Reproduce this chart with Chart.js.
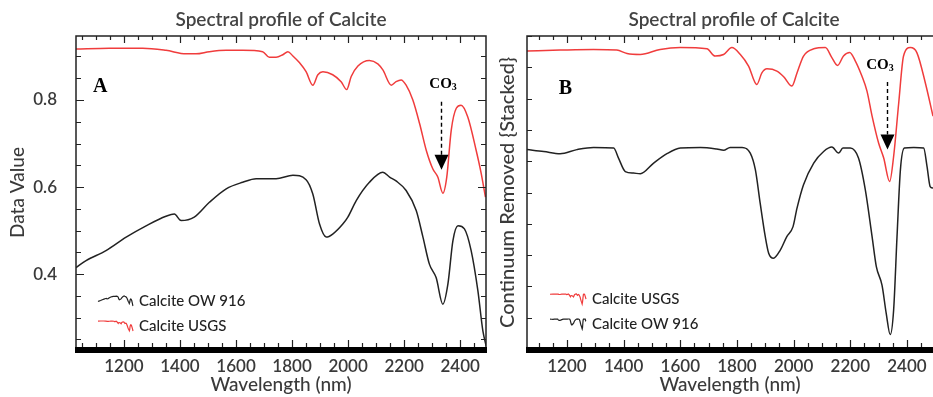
<!DOCTYPE html>
<html>
<head>
<meta charset="utf-8">
<title>Spectral profile of Calcite</title>
<script src="https://cdn.jsdelivr.net/npm/chart.js@4.4.1/dist/chart.umd.min.js"></script>
<style>
  html, body { margin: 0; padding: 0; background: #fff; }
  #wrap { position: relative; width: 933px; height: 397px; overflow: hidden; }
  canvas { position: absolute; top: 0; }
  #chartA { left: 0; }
  #chartB { left: 490px; }
</style>
</head>
<body>
<div id="wrap">
  <canvas id="chartA" width="490" height="397"></canvas>
  <canvas id="chartB" width="443" height="397"></canvas>
</div>
<script>
// tick labels
const xTicks = [1200, 1400, 1600, 1800, 2000, 2200, 2400];
const aYTicks = [0.4, 0.6, 0.8];

// panel A - reflectance (Data Value)
const aBlackNm = [1029, 1065, 1136, 1208, 1279, 1350, 1380, 1404, 1451, 1505, 1565, 1624, 1672, 1743, 1803, 1850, 1874, 1898, 1922, 1945, 1981, 1999, 2029, 2076, 2124, 2148, 2171, 2207, 2243, 2267, 2290, 2314, 2338, 2356, 2374, 2392, 2415, 2439, 2463, 2481, 2493];
const aBlackVal = [0.415, 0.431, 0.454, 0.485, 0.511, 0.533, 0.538, 0.523, 0.531, 0.565, 0.596, 0.611, 0.619, 0.619, 0.627, 0.617, 0.584, 0.515, 0.485, 0.492, 0.515, 0.531, 0.569, 0.611, 0.634, 0.623, 0.614, 0.592, 0.546, 0.485, 0.423, 0.392, 0.331, 0.377, 0.477, 0.511, 0.504, 0.454, 0.362, 0.269, 0.234];
const aRedNm = [1029, 1148, 1267, 1350, 1422, 1457, 1505, 1565, 1624, 1695, 1719, 1743, 1767, 1785, 1803, 1826, 1850, 1874, 1892, 1910, 1945, 1975, 1995, 2011, 2035, 2076, 2106, 2124, 2154, 2171, 2189, 2207, 2231, 2255, 2279, 2302, 2320, 2338, 2352, 2368, 2386, 2403, 2427, 2457, 2475, 2490];
const aRedVal = [0.917, 0.919, 0.919, 0.914, 0.906, 0.906, 0.911, 0.914, 0.914, 0.911, 0.898, 0.898, 0.904, 0.911, 0.901, 0.886, 0.865, 0.834, 0.858, 0.865, 0.858, 0.842, 0.824, 0.854, 0.878, 0.891, 0.883, 0.869, 0.834, 0.842, 0.846, 0.834, 0.800, 0.746, 0.684, 0.642, 0.623, 0.586, 0.623, 0.731, 0.781, 0.788, 0.761, 0.684, 0.631, 0.577];

// panel B - continuum removed, stacked (arbitrary units 0..1)
const bRedNm = [1059, 1176, 1294, 1376, 1412, 1459, 1529, 1600, 1694, 1723, 1753, 1782, 1812, 1841, 1870, 1888, 1906, 1941, 1965, 1994, 2012, 2035, 2071, 2112, 2135, 2155, 2176, 2198, 2218, 2241, 2259, 2277, 2300, 2318, 2339, 2353, 2371, 2388, 2412, 2435, 2465, 2492];
const bRedVal = [0.952, 0.955, 0.957, 0.955, 0.944, 0.941, 0.957, 0.963, 0.959, 0.936, 0.941, 0.963, 0.941, 0.904, 0.845, 0.882, 0.895, 0.888, 0.870, 0.840, 0.882, 0.936, 0.959, 0.963, 0.931, 0.906, 0.936, 0.947, 0.920, 0.872, 0.824, 0.744, 0.658, 0.610, 0.535, 0.615, 0.786, 0.936, 0.963, 0.947, 0.850, 0.744];
const bBlackNm = [1059, 1118, 1176, 1235, 1294, 1365, 1382, 1406, 1435, 1459, 1506, 1553, 1600, 1671, 1729, 1753, 1776, 1818, 1847, 1865, 1882, 1900, 1912, 1929, 1953, 1976, 1998, 2012, 2035, 2071, 2106, 2135, 2159, 2174, 2200, 2229, 2253, 2277, 2292, 2312, 2327, 2341, 2353, 2365, 2377, 2391, 2424, 2459, 2471, 2482, 2492];
const bBlackVal = [0.637, 0.631, 0.624, 0.637, 0.644, 0.642, 0.610, 0.567, 0.562, 0.560, 0.594, 0.624, 0.642, 0.644, 0.639, 0.635, 0.644, 0.644, 0.626, 0.573, 0.466, 0.359, 0.306, 0.290, 0.316, 0.359, 0.391, 0.450, 0.525, 0.594, 0.631, 0.645, 0.626, 0.642, 0.642, 0.610, 0.509, 0.359, 0.263, 0.204, 0.113, 0.046, 0.124, 0.359, 0.573, 0.642, 0.644, 0.642, 0.583, 0.519, 0.514];

Chart.defaults.font.family = "Lato, 'Open Sans', sans-serif";
Chart.defaults.color = "#3a3a3a";

const SERIF = "'Liberation Serif', 'DejaVu Serif', serif";

// frame, ticks, titles, notes and legend drawn on top of the datasets
function makeDecor(cfg) {
  return {
    id: "decor",
    afterDatasetsDraw(chart) {
      const { ctx, chartArea: a } = chart;
      const xs = chart.scales.x;
      const ys = chart.scales.y;
      ctx.save();

      // frame
      ctx.strokeStyle = "#222";
      ctx.lineWidth = 1.5;
      ctx.beginPath();
      ctx.moveTo(a.left, a.bottom);
      ctx.lineTo(a.left, a.top);
      ctx.lineTo(a.right, a.top);
      if (cfg.rightAxis) ctx.lineTo(a.right, a.bottom);
      ctx.stroke();

      // inward ticks
      ctx.lineWidth = 1.2;
      ctx.beginPath();
      for (let k = Math.ceil(xs.min / 50); k * 50 <= xs.max; k++) {
        const px = Math.round(xs.getPixelForValue(k * 50)) + 0.5;
        const len = (k * 50) % 200 === 0 ? 7 : 4;
        ctx.moveTo(px, a.top);
        ctx.lineTo(px, a.top + len);
        ctx.moveTo(px, a.bottom - 2);
        ctx.lineTo(px, a.bottom - 2 - len);
      }
      for (let k = Math.ceil(ys.min / cfg.yStep - 1e-6); k * cfg.yStep <= ys.max + 1e-9; k++) {
        const v = k * cfg.yStep;
        const py = Math.round(ys.getPixelForValue(v)) + 0.5;
        const major = cfg.yMajor && Math.abs(v / cfg.yMajor - Math.round(v / cfg.yMajor)) < 1e-6;
        const len = major ? 8 : 5;
        ctx.moveTo(a.left, py);
        ctx.lineTo(a.left + len, py);
        if (cfg.rightAxis) {
          ctx.moveTo(a.right, py);
          ctx.lineTo(a.right - len, py);
        }
      }
      ctx.stroke();

      // thick base bar
      ctx.fillStyle = "#000";
      ctx.fillRect(a.left - 1, a.bottom - 2, a.right - a.left + 2, 6);

      // title
      ctx.fillStyle = "#444";
      ctx.font = "600 19px Lato";
      ctx.textAlign = "center";
      ctx.textBaseline = "middle";
      ctx.fillText("Spectral profile of Calcite", (a.left + a.right) / 2 + cfg.titleShift, 20);

      // panel letter
      ctx.fillStyle = "#000";
      ctx.font = "bold 20px " + SERIF;
      ctx.textBaseline = "alphabetic";
      ctx.fillText(cfg.letter.text, xs.getPixelForValue(cfg.letter.nm), ys.getPixelForValue(cfg.letter.v) + 7);

      // CO3 note
      const cx = xs.getPixelForValue(cfg.co3.nm);
      const cy = ys.getPixelForValue(cfg.co3.v);
      ctx.font = "bold 15px " + SERIF;
      const w1 = ctx.measureText("CO").width;
      ctx.font = "bold 10px " + SERIF;
      const w2 = ctx.measureText("3").width;
      const x0 = cx - (w1 + w2) / 2;
      ctx.textAlign = "left";
      ctx.font = "bold 15px " + SERIF;
      ctx.fillText("CO", x0, cy + 5);
      ctx.font = "bold 10px " + SERIF;
      ctx.fillText("3", x0 + w1, cy + 7);

      // dashed arrow
      const ax = Math.round(xs.getPixelForValue(cfg.arrow.nm)) + 0.5;
      const yTop = ys.getPixelForValue(cfg.arrow.from);
      const yTip = ys.getPixelForValue(cfg.arrow.to);
      ctx.strokeStyle = "#000";
      ctx.lineWidth = 1.4;
      ctx.setLineDash([4, 3]);
      ctx.beginPath();
      ctx.moveTo(ax, yTop);
      ctx.lineTo(ax, yTip - 15);
      ctx.stroke();
      ctx.setLineDash([]);
      ctx.beginPath();
      ctx.moveTo(ax - 7, yTip - 15);
      ctx.lineTo(ax + 7, yTip - 15);
      ctx.lineTo(ax, yTip);
      ctx.closePath();
      ctx.fill();

      // legend with a mini copy of each spectrum as its symbol
      const lg = cfg.legend;
      lg.rows.forEach((row) => {
        const s = row.series;
        const yc = a.top + row.dy;
        const left = a.left + lg.iconDx;
        const n0 = s.nm[0];
        const n1 = s.nm[s.nm.length - 1];
        const vMin = Math.min(...s.val);
        const vMax = Math.max(...s.val);
        ctx.strokeStyle = s.color;
        ctx.lineWidth = 1.2;
        ctx.beginPath();
        s.nm.forEach((n, i) => {
          const px = left + ((n - n0) / (n1 - n0)) * lg.iconW;
          const py = yc + 5 - ((s.val[i] - vMin) / (vMax - vMin)) * 10;
          if (i === 0) ctx.moveTo(px, py);
          else ctx.lineTo(px, py);
        });
        ctx.stroke();
        ctx.fillStyle = "#222";
        ctx.font = "500 15px Lato";
        ctx.textAlign = "left";
        ctx.textBaseline = "middle";
        ctx.fillText(s.label, a.left + lg.textDx, yc);
      });

      ctx.restore();
    },
  };
}

function buildChart(id, cfg) {
  return new Chart(document.getElementById(id), {
    type: "line",
    data: {
      datasets: cfg.series.map((s) => ({
        label: s.label,
        data: s.nm.map((n, i) => ({ x: n, y: s.val[i] })),
        borderColor: s.color,
        borderWidth: 1.5,
        pointRadius: 0,
        cubicInterpolationMode: "monotone",
        fill: false,
      })),
    },
    options: {
      responsive: false,
      animation: false,
      layout: { padding: { top: 36, right: cfg.padRight, bottom: 0, left: 0 } },
      plugins: { legend: { display: false }, tooltip: { enabled: false } },
      scales: {
        x: {
          type: "linear",
          min: cfg.xMin,
          max: cfg.xMax,
          grid: { display: false },
          border: { display: false },
          ticks: { padding: -1, autoSkip: false, maxRotation: 0, font: { size: 17, weight: "600" }, color: "#3a3a3a", callback: (v) => String(v) },
          afterBuildTicks: (s) => { s.ticks = xTicks.map((v) => ({ value: v })); },
          afterFit: (s) => { s.height = 48; },
          title: { display: true, text: "Wavelength (nm)", font: { size: 19, weight: "500" }, color: "#3a3a3a", padding: { top: 0, bottom: 0.6 } },
        },
        y: {
          type: "linear",
          min: cfg.yMin,
          max: cfg.yMax,
          grid: { display: false },
          border: { display: false },
          ticks: { display: cfg.yLabels.length > 0, padding: 11, font: { size: 17, weight: "600" }, color: "#3a3a3a", callback: (v) => v.toFixed(1) },
          afterBuildTicks: (s) => { s.ticks = cfg.yLabels.map((v) => ({ value: v })); },
          afterFit: (s) => { s.width = cfg.yAxisWidth; },
          title: { display: true, text: cfg.yTitle, font: { size: cfg.yTitleSize, weight: "500" }, color: "#3a3a3a", padding: { top: 18 - cfg.yTitleSize * 0.6, bottom: 0 } },
        },
      },
    },
    plugins: [makeDecor(cfg)],
  });
}

const aBlack = { label: "Calcite OW 916", nm: aBlackNm, val: aBlackVal, color: "#222222" };
const aRed = { label: "Calcite USGS", nm: aRedNm, val: aRedVal, color: "#f03c3c" };
const bRed = { label: "Calcite USGS", nm: bRedNm, val: bRedVal, color: "#f03c3c" };
const bBlack = { label: "Calcite OW 916", nm: bBlackNm, val: bBlackVal, color: "#222222" };

buildChart("chartA", {
  series: [aRed, aBlack],
  xMin: 1029, xMax: 2492,
  yMin: 0.228, yMax: 0.947,
  yLabels: aYTicks,
  yStep: 0.05, yMajor: 0.2,
  yTitle: "Data Value",
  yTitleSize: 19,
  yAxisWidth: 76,
  padRight: 4,
  rightAxis: true,
  titleShift: 0,
  letter: { text: "A", nm: 1115, v: 0.834 },
  co3: { nm: 2339, v: 0.839 },
  arrow: { nm: 2332, from: 0.796, to: 0.640 },
  legend: { iconDx: 22, iconW: 35, textDx: 63, rows: [{ series: aBlack, dy: 265 }, { series: aRed, dy: 290 }] },
});

buildChart("chartB", {
  series: [bRed, bBlack],
  xMin: 1059, xMax: 2492,
  yMin: 0, yMax: 1,
  yLabels: [],
  yStep: 0.1, yMajor: 0,
  yTitle: "Continuum Removed {Stacked}",
  yTitleSize: 20,
  yAxisWidth: 37,
  padRight: 0,
  rightAxis: false,
  titleShift: 4,
  letter: { text: "B", nm: 1195, v: 0.837 },
  co3: { nm: 2305, v: 0.911 },
  arrow: { nm: 2329, from: 0.853, to: 0.637 },
  legend: { iconDx: 23, iconW: 36, textDx: 65, rows: [{ series: bRed, dy: 263 }, { series: bBlack, dy: 288 }] },
});
</script>
</body>
</html>
